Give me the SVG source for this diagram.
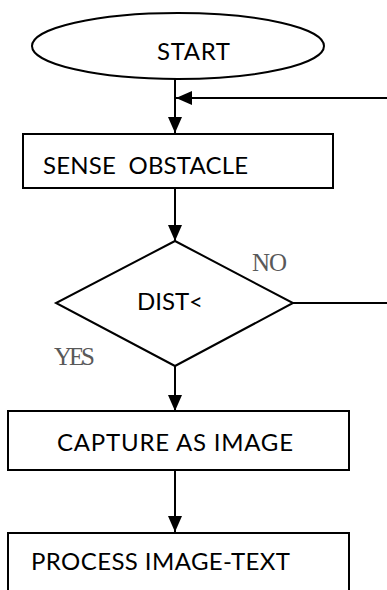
<svg xmlns="http://www.w3.org/2000/svg" width="387" height="590" viewBox="0 0 387 590">
<defs>
<style>
.shape{fill:#fff;stroke:#000;stroke-width:2}
.conn{fill:none;stroke:#000;stroke-width:2}
.t{font-family:Lato,"Liberation Sans",Arial,sans-serif;font-size:24px;fill:#000}
.lbl{font-family:"Liberation Serif","Times New Roman",serif;font-size:25px;fill:#595959}
</style>
<marker id="ah" viewBox="0 0 16 14" refX="16" refY="7" markerWidth="16" markerHeight="14" markerUnits="userSpaceOnUse" orient="auto">
<path d="M0,0 L16,7 L0,14 Z" fill="#000"/>
</marker>
</defs>
<rect width="387" height="590" fill="#fff"/>
<g id="connectors">
<line class="conn" x1="175" y1="79" x2="175" y2="133" marker-end="url(#ah)"/>
<line class="conn" x1="387" y1="98" x2="176" y2="98" marker-end="url(#ah)"/>
<line class="conn" x1="175" y1="188" x2="175" y2="241" marker-end="url(#ah)"/>
<line class="conn" x1="293" y1="303" x2="387" y2="303"/>
<line class="conn" x1="175" y1="366" x2="175" y2="411" marker-end="url(#ah)"/>
<line class="conn" x1="175" y1="470" x2="175" y2="532" marker-end="url(#ah)"/>
</g>
<g id="start">
<ellipse class="shape" cx="178" cy="46" rx="146" ry="33"/>
<text class="t" x="157" y="60" textLength="73">START</text>
</g>
<g id="sense">
<rect class="shape" x="23" y="134" width="310" height="54"/>
<text class="t" x="43" y="174" textLength="205" xml:space="preserve">SENSE  OBSTACLE</text>
</g>
<g id="decision">
<polygon class="shape" points="175,241 293,303 175,366 56,303"/>
<text class="t" x="137" y="310" textLength="66">DIST&lt;</text>
<text class="lbl" x="252" y="271" textLength="35">NO</text>
<text class="lbl" x="54" y="365" textLength="41">YES</text>
</g>
<g id="capture">
<rect class="shape" x="8" y="411" width="341" height="59"/>
<text class="t" x="57" y="451" textLength="236">CAPTURE AS IMAGE</text>
</g>
<g id="process">
<rect class="shape" x="8" y="533" width="341" height="70"/>
<text class="t" x="31" y="570" textLength="259">PROCESS IMAGE-TEXT</text>
</g>
</svg>
